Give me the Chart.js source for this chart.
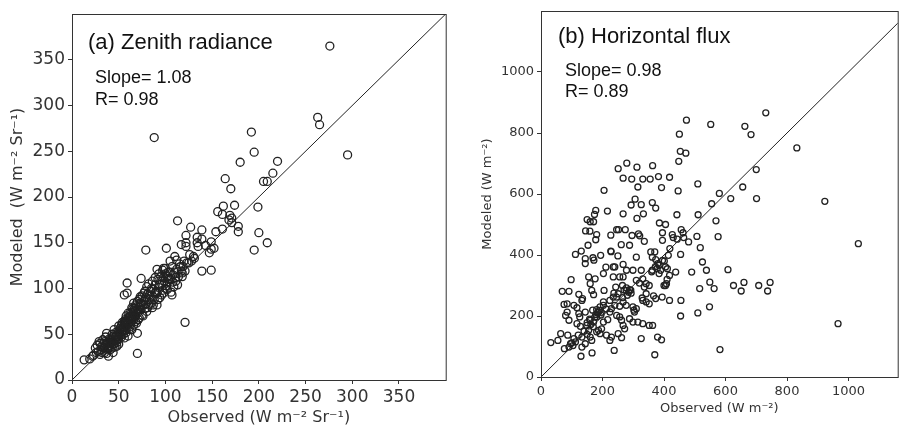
<!DOCTYPE html>
<html>
<head>
<meta charset="utf-8">
<script src="https://cdn.jsdelivr.net/npm/chart.js@4.4.1/dist/chart.umd.min.js"></script>
<style>
  html, body { margin: 0; padding: 0; background: #fff; }
  #wrap { position: relative; width: 903px; height: 426px; overflow: hidden; }
  canvas { position: absolute; top: 0; }
  #canvas-a { left: 0; }
  #canvas-b { left: 451px; }
</style>
</head>
<body>
<div id="wrap">
  <canvas id="canvas-a" width="451" height="426"></canvas>
  <canvas id="canvas-b" width="452" height="426"></canvas>
</div>
<script>
// (a) zenith radiance: [observed, modeled]
const zenithPoints = [
  [276,365],[88,265],[263,287],[265,279],[295,246],[192,271],[195,249],[180,238],[220,239],[215,226],
  [205,217],[209,217],[164,220],[170,209],[199,189],[174,191],[162,190],[156,184],[161,181],[169,180],
  [171,177],[168,175],[171,172],[178,168],[178,162],[154,162],[161,165],[200,161],[195,142],[209,150],
  [113,174],[127,167],[122,158],[122,150],[122,146],[139,164],[139,154],[134,156],[134,150],[135,146],
  [149,151],[149,143],[147,139],[152,144],[130,135],[128,130],[139,119],[149,120],[79,142],[101,144],
  [121,63],[70,29],[110,135],[112,131],[105,130],[119,124],[125,128],[131,133],[143,147],[126,137],[117,148],
  [13,22],[19,23],[23,27],[25,35],[28,31],[30,40],[32,37],[34,35],[35,42],[37,29],
  [38,33],[39,26],[40,38],[41,44],[42,40],[43,35],[44,48],[45,40],[46,47],[47,43],
  [48,37],[49,52],[50,45],[51,56],[52,49],[53,60],[54,53],[55,55],[56,64],[57,66],
  [57,58],[58,70],[59,60],[60,73],[60,65],[61,55],[62,69],[63,62],[64,55],[65,72],
  [66,66],[66,84],[67,78],[68,75],[69,62],[70,86],[70,51],[71,66],[72,80],[73,91],
  [74,111],[75,71],[76,82],[77,95],[77,86],[78,78],[79,90],[80,102],[80,75],[81,94],
  [82,82],[83,88],[84,97],[85,84],[86,99],[86,79],[87,91],[88,88],[89,104],[90,97],
  [91,95],[91,121],[91,82],[92,110],[93,101],[94,90],[95,113],[96,105],[97,98],[98,122],
  [98,95],[99,108],[100,116],[101,103],[102,106],[102,113],[102,99],[103,118],[104,111],[105,110],
  [106,96],[107,93],[107,124],[108,115],[109,102],[110,118],[111,108],[112,121],[113,104],[114,113],
  [115,127],[116,124],[117,119],[118,117],[118,113],[120,130],[121,119],[123,128],[59,95],[56,93],
  [59,106],[36,47],[33,44],[29,42],[27,38],[31,33],[35,30],[37,51],[41,33],[44,30],
  [46,36],[48,41],[50,39],[52,57],[53,47],[55,50],[56,46],[58,52],[60,48],[62,58],
  [63,67],[64,74],[66,60],[67,70],[68,64],[69,80],[71,74],[72,68],[73,84],[74,77],
  [76,70],[78,88],[79,83],[81,79],[83,93],[85,100],[87,82],[89,95],[92,88],[94,104],
  [96,93],[98,112],[100,100],[103,110],[105,118],[108,107],[111,112],[45,55],[43,50],[40,45],
  [38,41],[36,38],[34,40],[32,30],[30,28],[26,30],[22,26],[47,52],[50,59],[54,63],
  [57,62],[61,69],[65,78],[68,82],[72,88],[75,92],[78,97],[82,105],[86,108],[89,112],
  [93,116],[97,120],[100,122],[39,36],[42,43],[44,39],[47,47],[49,44],[51,50],[53,52],
  [55,58],[56,61],[57,55],[58,65],[59,57],[60,62],[61,67],[62,64],[63,70],[64,66],
  [65,68],[66,71],[58,61],[54,57],[52,54],[50,52],[48,49],[46,44],[44,42],[41,40],
  [40,35],[37,40],[35,36],[62,73],[64,79],[66,76],[68,70],[70,76],[72,77],[74,82]
];

// (b) horizontal flux: [observed, modeled]
const fluxPoints = [
  [731,866],[473,842],[552,828],[663,822],[683,795],[450,796],[832,751],[453,740],[471,734],[448,707],
  [279,701],[312,688],[363,693],[251,683],[700,680],[267,652],[295,649],[331,649],[355,649],[382,657],
  [418,655],[315,623],[392,621],[510,633],[205,612],[446,610],[656,623],[580,602],[306,583],[326,565],
  [293,564],[362,572],[373,554],[555,568],[617,585],[701,585],[923,576],[216,544],[178,546],[174,533],
  [171,509],[150,516],[160,509],[267,535],[333,535],[312,520],[442,532],[511,532],[569,512],[385,505],
  [405,500],[145,479],[159,478],[246,483],[252,483],[274,483],[317,469],[321,463],[181,467],[178,450],
  [227,465],[296,464],[395,473],[427,467],[430,457],[456,483],[462,473],[464,457],[443,452],[480,443],
  [507,461],[576,460],[518,424],[395,448],[336,445],[153,432],[131,413],[112,402],[288,432],[261,434],
  [227,413],[228,411],[250,397],[194,399],[169,391],[172,383],[144,388],[144,372],[310,393],[357,410],
  [370,410],[362,393],[373,385],[384,366],[414,399],[419,421],[401,380],[405,361],[454,402],[525,377],
  [211,360],[240,361],[267,369],[278,350],[299,350],[326,350],[362,350],[389,350],[384,339],[411,355],
  [418,333],[438,344],[490,344],[538,350],[608,352],[155,328],[160,306],[203,339],[235,328],[256,328],
  [267,328],[235,361],[176,322],[98,319],[123,271],[135,257],[69,281],[91,281],[165,284],[171,270],
  [205,284],[243,295],[265,300],[277,284],[288,286],[293,275],[237,275],[265,260],[281,268],[310,317],
  [320,308],[331,322],[342,306],[352,300],[336,295],[366,266],[373,257],[394,262],[405,300],[408,306],
  [329,259],[342,246],[352,240],[418,251],[455,251],[549,311],[626,300],[651,282],[660,310],[708,300],
  [737,282],[745,310],[516,290],[563,290],[548,230],[510,210],[454,200],[966,175],[1032,437],[582,90],
  [370,73],[238,87],[166,79],[130,68],[32,113],[55,120],[64,142],[76,93],[91,98],[96,109],
  [87,137],[107,126],[112,115],[121,137],[133,131],[133,98],[144,109],[117,175],[128,166],[149,169],
  [155,153],[160,186],[171,180],[181,197],[187,213],[168,219],[181,221],[192,230],[203,235],[85,240],
  [75,238],[85,213],[80,202],[91,186],[107,235],[117,227],[133,251],[123,208],[126,197],[144,213],
  [160,131],[165,120],[181,148],[197,158],[203,180],[217,188],[224,213],[229,224],[246,202],[256,197],
  [262,186],[267,169],[272,158],[288,191],[299,180],[304,213],[310,224],[315,180],[331,175],[352,169],
  [363,169],[379,131],[392,122],[326,126],[224,120],[229,131],[251,142],[262,129],[213,137],[192,142],
  [187,153],[224,251],[235,262],[246,262],[251,273],[203,246],[240,235],[256,232],[267,246],[277,235],
  [299,230],[302,219],[331,251],[342,273],[175,196],[178,205],[184,210],[190,218],[195,203],[170,165],
  [162,172],[150,140],[140,150],[100,112],[104,103],[150,178],[196,212],[158,190],[212,223],[270,285],
  [285,278],[278,292],[292,285],[360,345],[372,362],[378,356],[380,372],[395,382],[400,300],[410,320]
];

const zenithTicks = [0, 50, 100, 150, 200, 250, 300, 350];
const fluxTicks = [0, 200, 400, 600, 800, 1000];

const zenithLabels = ["(a) Zenith radiance", "Slope= 1.08", "R= 0.98"];
const fluxLabels = ["(b) Horizontal flux", "Slope= 0.98", "R= 0.89"];

// box around the plot area plus the panel captions
const framePlugin = {
  id: "frame",
  afterDatasetsDraw(chart, args, opts) {
    const { ctx, chartArea: a } = chart;
    ctx.save();
    ctx.strokeStyle = "#333";
    ctx.lineWidth = 1;
    ctx.strokeRect(a.left + 0.5, a.top + 0.5, a.right - a.left, a.bottom - a.top);
    ctx.fillStyle = "#111";
    ctx.textBaseline = "alphabetic";
    ctx.textAlign = "left";
    ctx.font = '22px "Liberation Sans"';
    ctx.fillText(opts.labels[0], a.left + opts.title[0], a.top + opts.title[1]);
    ctx.font = '18px "Liberation Sans"';
    ctx.fillText(opts.labels[1], a.left + opts.slope[0], a.top + opts.slope[1]);
    ctx.fillText(opts.labels[2], a.left + opts.slope[0], a.top + opts.r);
    ctx.restore();
  },
};

const makePanel = (id, cfg) => {
  const ctx = document.getElementById(id).getContext("2d");
  const axis = (max, size, fit) => ({
    type: "linear",
    min: 0,
    max: max,
    afterBuildTicks: (s) => {
      s.ticks = cfg.ticks.map((v) => ({ value: v }));
    },
    afterFit: fit,
    grid: { drawOnChartArea: false, tickLength: 4, tickColor: "#333" },
    border: { display: false },
    ticks: {
      padding: 3,
      color: "#333",
      autoSkip: false,
      maxRotation: 0,
      callback: (v) => String(v),
      font: { family: "DejaVu Sans", size: size },
    },
  });

  const x = axis(cfg.xMax, cfg.tickSize, (s) => { s.height = cfg.xAxisHeight; });
  x.title = {
    display: true,
    text: cfg.xTitle,
    color: "#333",
    font: { family: "DejaVu Sans", size: cfg.titleSize, lineHeight: 1 },
    padding: { top: 0, bottom: cfg.xTitlePad },
  };
  const y = axis(cfg.yMax, cfg.tickSize, (s) => { s.width = cfg.yAxisWidth; });
  y.title = {
    display: true,
    text: cfg.yTitle,
    color: "#333",
    font: { family: "DejaVu Sans", size: cfg.titleSize, lineHeight: 1 },
    padding: { top: cfg.yTitlePad, bottom: 0 },
  };

  new Chart(ctx, {
    type: "scatter",
    data: {
      datasets: [
        {
          data: cfg.points.map((p) => ({ x: p[0], y: p[1] })),
          backgroundColor: "rgba(0,0,0,0)",
          borderColor: "#222",
          borderWidth: 1.3,
          pointRadius: cfg.radius,
        },
        {
          type: "line",
          data: [{ x: 0, y: 0 }, { x: cfg.yMax, y: cfg.yMax }],
          borderColor: "#222",
          borderWidth: 1,
          pointRadius: 0,
          fill: false,
        },
      ],
    },
    options: {
      responsive: false,
      animation: false,
      devicePixelRatio: 1,
      layout: { padding: { top: cfg.padTop, right: cfg.padRight, left: 0, bottom: 0 } },
      plugins: {
        legend: { display: false },
        tooltip: { enabled: false },
        frame: { labels: cfg.labels, title: cfg.titlePos, slope: cfg.slopePos, r: cfg.rY },
      },
      scales: { x: x, y: y },
    },
    plugins: [framePlugin],
  });
};

makePanel("canvas-a", {
  points: zenithPoints,
  ticks: zenithTicks,
  labels: zenithLabels,
  xMax: 400,
  yMax: 400,
  radius: 4,
  tickSize: 17,
  titleSize: 16,
  xTitle: "Observed (W m⁻² Sr⁻¹)",
  yTitle: "Modeled  (W m⁻² Sr⁻¹)",
  xAxisHeight: 46,
  yAxisWidth: 72,
  xTitlePad: 0,
  yTitlePad: 10,
  padTop: 14,
  padRight: 4,
  titlePos: [16, 35],
  slopePos: [23, 69],
  rY: 91,
});

makePanel("canvas-b", {
  points: fluxPoints,
  ticks: fluxTicks,
  labels: fluxLabels,
  xMax: 1160,
  yMax: 1200,
  radius: 3,
  tickSize: 13,
  titleSize: 13,
  xTitle: "Observed (W m⁻²)",
  yTitle: "Modeled (W m⁻²)",
  xAxisHeight: 49,
  yAxisWidth: 90,
  xTitlePad: 11,
  yTitlePad: 30,
  padTop: 11,
  padRight: 0,
  titlePos: [17, 32],
  slopePos: [24, 65],
  rY: 86,
});
</script>
</body>
</html>
